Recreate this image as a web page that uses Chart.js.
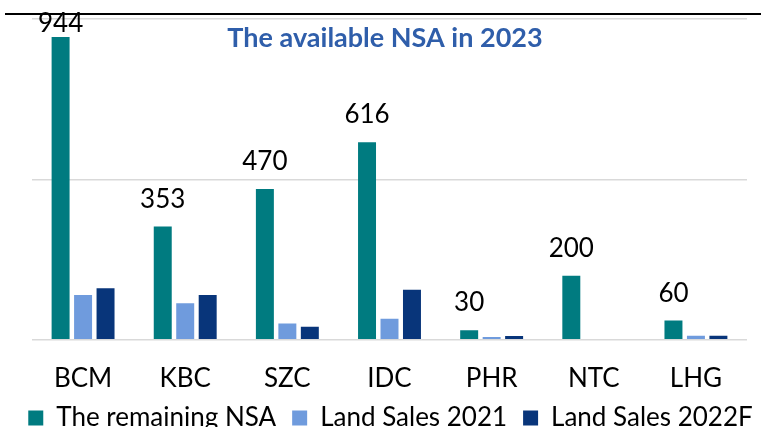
<!DOCTYPE html>
<html>
<head>
<meta charset="utf-8">
<script src="https://cdn.jsdelivr.net/npm/chart.js@4"></script>
<style>
  html, body { margin: 0; padding: 0; background: #fff; }
  #wrap { width: 761px; height: 427px; position: relative; }
</style>
</head>
<body>
<div id="wrap"><canvas id="grafico"></canvas></div>
<script>
const categorias = ['BCM', 'KBC', 'SZC', 'IDC', 'PHR', 'NTC', 'LHG'];
const remainingNSA = [944, 353, 470, 616, 30, 200, 60];
const landSales2021 = [140, 114, 51, 66, 9, 0, 13];
const landSales2022F = [161, 140, 41, 156, 12, 0, 13];
const tituloTexto = 'The available NSA in 2023';

Chart.defaults.font.family = 'Lato, "Open Sans", sans-serif';
Chart.defaults.color = '#000';

// titulo dentro del area, linea negra arriba y etiquetas de valor
const extras = {
  id: 'extras',
  afterLayout(chart) {
    // acercar la leyenda a las etiquetas del eje x
    const lg = chart.legend;
    lg.top -= 20; lg.bottom -= 20;
    lg.left += 10; lg.right += 10;
  },
  afterDraw(chart) {
    const ctx = chart.ctx;
    ctx.save();
    ctx.strokeStyle = '#000';
    ctx.lineWidth = 2;
    ctx.beginPath();
    ctx.moveTo(5, 14);
    ctx.lineTo(761, 14);
    ctx.stroke();

    ctx.fillStyle = '#2F5EAA';
    ctx.font = 'bold 27px Lato, sans-serif';
    ctx.textAlign = 'center';
    ctx.textBaseline = 'alphabetic';
    ctx.fillText(tituloTexto, 385, 47);

    ctx.fillStyle = '#000';
    ctx.font = '26px Lato, sans-serif';
    chart.getDatasetMeta(0).data.forEach((bar, i) => {
      const y = Math.max(bar.y - 19, 32);
      ctx.fillText(String(remainingNSA[i]), bar.x, y);
    });
    ctx.restore();
  }
};

const ctx = document.getElementById('grafico').getContext('2d');
new Chart(ctx, {
  type: 'bar',
  data: {
    labels: categorias,
    datasets: [
      { label: 'The remaining NSA', data: remainingNSA, backgroundColor: '#007B80' },
      { label: 'Land Sales 2021', data: landSales2021, backgroundColor: '#6F9BDD' },
      { label: 'Land Sales 2022F', data: landSales2022F, backgroundColor: '#08357A' }
    ]
  },
  options: {
    responsive: true,
    maintainAspectRatio: false,
    animation: false,
    layout: { padding: { left: 0, right: 0, top: 19, bottom: -34 } },
    datasets: { bar: { categoryPercentage: 0.66, barPercentage: 0.8 } },
    plugins: {
      legend: {
        position: 'bottom',
        labels: { font: { size: 26 }, boxWidth: 15, boxHeight: 15, padding: 16, color: '#000' }
      },
      tooltip: { enabled: false }
    },
    scales: {
      x: {
        grid: { display: false },
        border: { display: false },
        ticks: { font: { size: 26 }, padding: 15, color: '#000' }
      },
      y: {
        min: 0,
        max: 1000,
        ticks: { display: false, stepSize: 500 },
        grid: { color: '#D9D9D9', lineWidth: 1.5, drawTicks: false },
        border: { display: false },
        afterFit(scale) { scale.width = 32; }
      },
      derecha: {
        position: 'right',
        ticks: { display: false },
        grid: { display: false, drawTicks: false },
        border: { display: false },
        afterFit(scale) { scale.width = 14; }
      }
    }
  },
  plugins: [extras]
});
</script>
</body>
</html>
